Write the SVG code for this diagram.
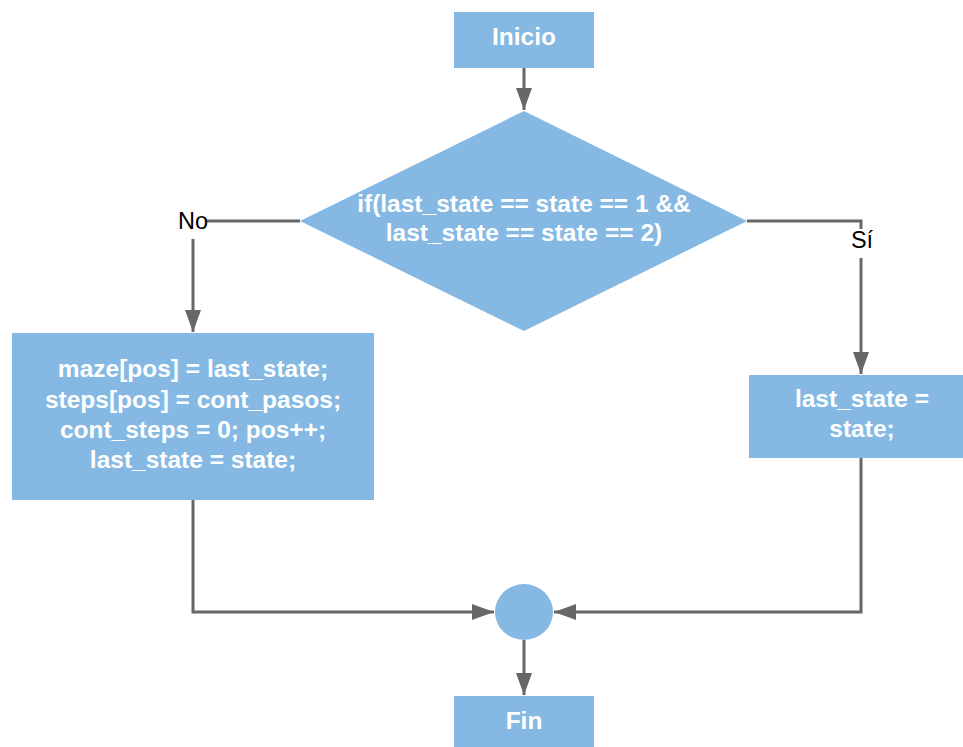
<svg xmlns="http://www.w3.org/2000/svg" width="963" height="747" viewBox="0 0 963 747">
<style>
.shape{fill:#85b9e3;stroke:none}
.t{font-family:"Liberation Sans",Arial,sans-serif;font-size:24.5px;font-weight:bold;fill:#ffffff;text-anchor:middle}
.lbl{font-family:"Liberation Sans",Arial,sans-serif;font-size:23.5px;fill:#000000;text-anchor:middle}
.c{fill:none;stroke:#676767;stroke-width:3}
</style>
<defs>
<marker id="ah" viewBox="0 0 22 16" refX="22" refY="8" markerWidth="22" markerHeight="16" markerUnits="userSpaceOnUse" orient="auto">
<path d="M0,0 L22,8 L0,16 Z" fill="#676767"/>
</marker>
</defs>
<rect width="963" height="747" fill="#ffffff"/>
<g id="connectors">
<path class="c" d="M524,68 V110" marker-end="url(#ah)"/>
<path class="c" d="M300,221 H207"/>
<path class="c" d="M193,239 V332" marker-end="url(#ah)"/>
<path class="c" d="M747,221 H861 V229"/>
<path class="c" d="M861,258 V374" marker-end="url(#ah)"/>
<path class="c" d="M193,500 V612 H494" marker-end="url(#ah)"/>
<path class="c" d="M861,458 V612 H554" marker-end="url(#ah)"/>
<path class="c" d="M524,640 V695" marker-end="url(#ah)"/>
<text class="lbl" x="193" y="229">No</text>
<text class="lbl" x="862" y="248">Sí</text>
</g>
<g id="inicio">
<rect class="shape" x="454" y="12" width="140" height="56"/>
<text class="t" x="524" y="45">Inicio</text>
</g>
<g id="decision">
<polygon class="shape" points="524,111 747,221 524,331 300,221"/>
<text class="t" x="524" y="212">if(last_state == state == 1 &amp;&amp;</text>
<text class="t" x="524" y="241">last_state == state == 2)</text>
</g>
<g id="no-branch">
<rect class="shape" x="12" y="333" width="362" height="167"/>
<text class="t" x="193" y="377">maze[pos] = last_state;</text>
<text class="t" x="193" y="407.5">steps[pos] = cont_pasos;</text>
<text class="t" x="193" y="438">cont_steps = 0; pos++;</text>
<text class="t" x="193" y="468">last_state = state;</text>
</g>
<g id="si-branch">
<rect class="shape" x="749" y="375" width="224" height="83"/>
<text class="t" x="862" y="407">last_state =</text>
<text class="t" x="862" y="437">state;</text>
</g>
<g id="merge">
<ellipse class="shape" cx="524" cy="612" rx="29" ry="28"/>
</g>
<g id="fin">
<rect class="shape" x="454" y="696" width="140" height="56"/>
<text class="t" x="524" y="729">Fin</text>
</g>
</svg>
